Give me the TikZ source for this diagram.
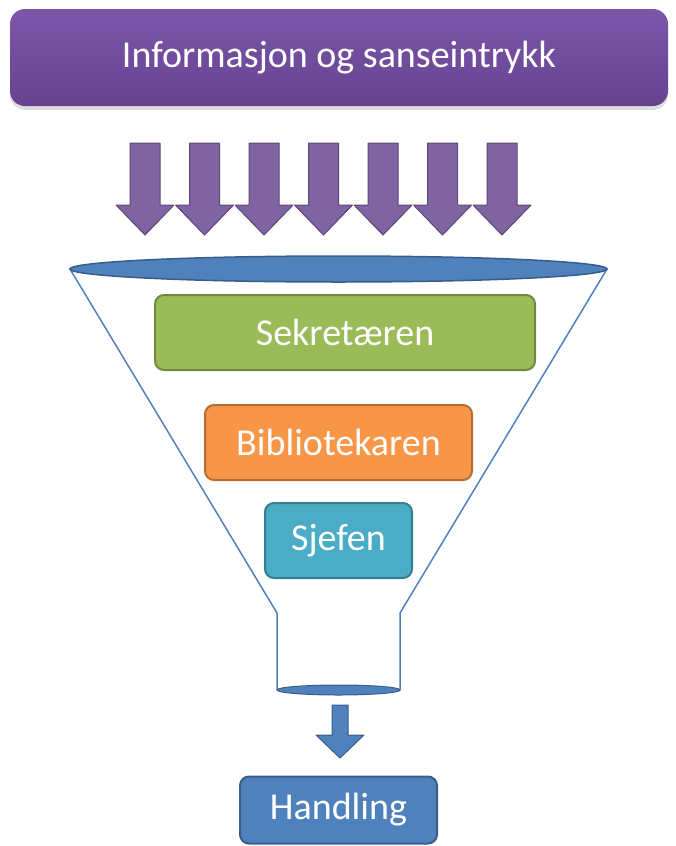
\documentclass[tikz,border=0pt]{standalone}
\usepackage{fontspec}
\setmainfont{Carlito}
\usepackage{tikz}
\usetikzlibrary{shadows}
\definecolor{lilla}{HTML}{8064A2}
\definecolor{lillamork}{HTML}{5C4776}
\definecolor{lillatopp}{HTML}{7D56AA}
\definecolor{lillabunn}{HTML}{65438F}
\definecolor{gronn}{HTML}{9BBB59}
\definecolor{gronnmork}{HTML}{71893F}
\definecolor{oransje}{HTML}{F79646}
\definecolor{oransjemork}{HTML}{B66D31}
\definecolor{turkis}{HTML}{4BACC6}
\definecolor{turkismork}{HTML}{357D91}
\definecolor{blaa}{HTML}{4F81BD}
\definecolor{blaamork}{HTML}{385D8A}
\tikzset{
  boks/.style={rounded corners=9pt,line width=2pt,inner sep=0pt,
    text=white,font=\fontsize{38}{40}\selectfont},
}

\begin{document}
\begin{tikzpicture}[x=1pt,y=-1pt]
  \useasboundingbox (0,0) rectangle (676,846);
  % topp
  \node[boks,top color=lillatopp,bottom color=lillabunn,
    rounded corners=15pt,drop shadow={opacity=0.25,shadow xshift=0pt,shadow yshift=-4pt},
    minimum width=658pt,minimum height=97pt] (info) at (339,57.5) {Informasjon og sanseintrykk};
  % piler inn
  \foreach \i in {0,...,6} {
    \pgfmathsetmacro{\cx}{145+59.5*\i}
    \filldraw[fill=lilla,draw=lillamork,line width=1pt,line join=round]
      (\cx-15,143) -- (\cx+15,143) -- (\cx+15,205) -- (\cx+29,205) -- (\cx,235)
      -- (\cx-29,205) -- (\cx-15,205) -- cycle;
  }
  % trakt
  \draw[blaa,line width=1.5pt] (70,269) -- (277,613) -- (277,690);
  \draw[blaa,line width=1.5pt] (607,269) -- (400,613) -- (400,690);
  \filldraw[fill=blaa,draw=blaamork,line width=1.5pt] (338.5,269) ellipse (268.5 and 13);
  \filldraw[fill=blaa,draw=blaamork,line width=1pt] (338.5,690) ellipse (61.5 and 5);
  % bokser
  \node[boks,fill=gronn,draw=gronnmork,minimum width=380pt,minimum height=75pt]
    (sekr) at (345,332.5) {Sekretæren};
  \node[boks,fill=oransje,draw=oransjemork,minimum width=267pt,minimum height=75pt]
    (bibl) at (338.5,442.5) {Bibliotekaren};
  \node[boks,fill=turkis,draw=turkismork,minimum width=147pt,minimum height=75pt]
    (sjef) at (338.5,540.5) {Sjefen};
  % pil ut
  \filldraw[fill=blaa,draw=blaamork,line width=1pt,line join=round]
    (332,705) -- (348,705) -- (348,735) -- (364,735) -- (340,758)
    -- (316,735) -- (332,735) -- cycle;
  \node[boks,fill=blaa,draw=blaamork,minimum width=197pt,minimum height=67pt]
    (handl) at (338.5,810) {Handling};
\end{tikzpicture}
\end{document}
